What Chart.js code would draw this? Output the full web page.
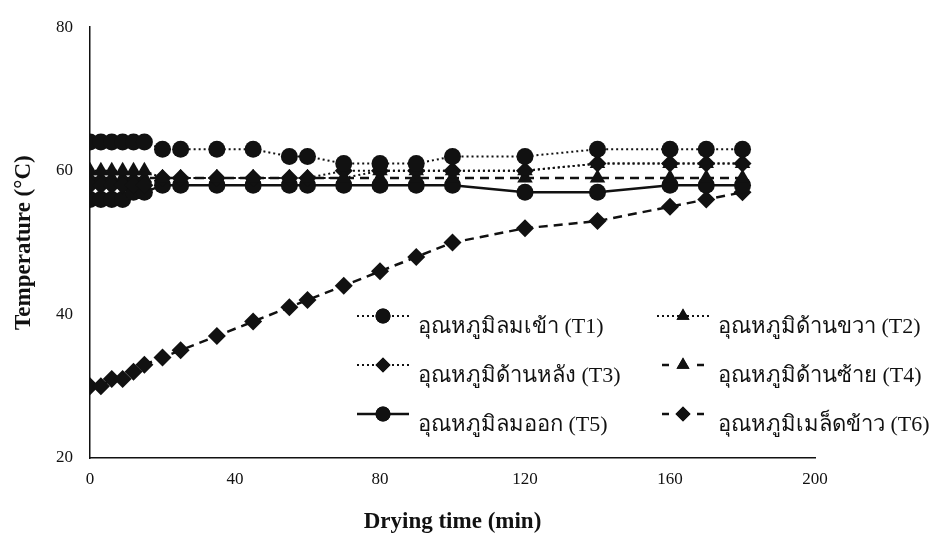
<!DOCTYPE html>
<html>
<head>
<meta charset="utf-8">
<script src="https://cdn.jsdelivr.net/npm/chart.js@4"></script>
<style>
  html, body { margin: 0; padding: 0; background: #fff; }
  #wrap { width: 930px; height: 537px; position: relative; }
</style>
</head>
<body>
<div id="wrap"><canvas id="chart"></canvas></div>
<script>
// drying time (min)
const times = [0, 3, 6, 9, 12, 15, 20, 25, 35, 45, 55, 60, 70, 80, 90, 100, 120, 140, 160, 170, 180];
// temperatures (C) at each measuring point
const t1 = [64, 64, 64, 64, 64, 64, 63, 63, 63, 63, 62, 62, 61, 61, 61, 62, 62, 63, 63, 63, 63];
const t2 = [60, 60, 60, 60, 60, 60, 59, 59, 59, 59, 59, 59, 59, 60, 60, 60, 60, 61, 61, 61, 61];
const t3 = [58, 58, 58, 58, 58, 58, 59, 59, 59, 59, 59, 59, 60, 60, 60, 60, 60, 61, 61, 61, 61];
const t4 = [59, 59, 59, 59, 59, 59, 59, 59, 59, 59, 59, 59, 59, 59, 59, 59, 59, 59, 59, 59, 59];
const t5 = [56, 56, 56, 56, 57, 57, 58, 58, 58, 58, 58, 58, 58, 58, 58, 58, 57, 57, 58, 58, 58];
const t6 = [30, 30, 31, 31, 32, 33, 34, 35, 37, 39, 41, 42, 44, 46, 48, 50, 52, 53, 55, 56, 57];

const seriesNames = [
  'อุณหภูมิลมเข้า (T1)',
  'อุณหภูมิด้านขวา (T2)',
  'อุณหภูมิด้านหลัง (T3)',
  'อุณหภูมิด้านซ้าย (T4)',
  'อุณหภูมิลมออก (T5)',
  'อุณหภูมิเมล็ดข้าว (T6)'
];
const yTicks = [20, 40, 60, 80];
const xTicks = [0, 40, 80, 120, 160, 200];

const serif = "'Liberation Serif', 'Times New Roman', serif";
const ink = '#111';

function pts(vals) {
  return vals.map((v, i) => ({ x: times[i], y: v }));
}

function series(label, vals, shape, dash, width) {
  return {
    label: label,
    data: pts(vals),
    borderColor: ink,
    backgroundColor: ink,
    borderWidth: width,
    borderDash: dash,
    pointStyle: shape,
    pointRadius: shape === 'circle' ? 8.5 : 9,
    pointBorderWidth: 0,
    pointBackgroundColor: ink,
    tension: 0
  };
}

const datasets = [
  series(seriesNames[0], t1, 'circle', [2, 3], 2),
  series(seriesNames[1], t2, 'triangle', [2, 3], 2),
  series(seriesNames[2], t3, 'rectRot', [2, 3], 2),
  series(seriesNames[3], t4, 'triangle', [9, 6], 2.5),
  series(seriesNames[4], t5, 'circle', [], 2.5),
  series(seriesNames[5], t6, 'rectRot', [9, 6], 2.5)
];

// two-column legend drawn inside the plot area
const legendInside = {
  id: 'legendInside',
  afterDraw(chart) {
    const ctx = chart.ctx;
    const cols = [357, 657];
    const rows = [316, 365, 414];
    ctx.save();
    chart.data.datasets.forEach((ds, i) => {
      const x0 = cols[i % 2];
      const y = rows[Math.floor(i / 2)];
      ctx.strokeStyle = ink;
      ctx.lineWidth = ds.borderWidth;
      ctx.setLineDash(ds.borderDash);
      ctx.beginPath();
      if (ds.borderDash.length && ds.borderDash[0] > 5) {
        ctx.setLineDash([]);
        ctx.moveTo(x0 + 5, y); ctx.lineTo(x0 + 12, y);
        ctx.moveTo(x0 + 40, y); ctx.lineTo(x0 + 47, y);
      } else {
        ctx.moveTo(x0, y); ctx.lineTo(x0 + 52, y);
      }
      ctx.stroke();
      ctx.setLineDash([]);
      Chart.helpers.drawPoint(ctx, {
        pointStyle: ds.pointStyle, radius: 7.5, borderWidth: 0
      }, x0 + 26, y);
      ctx.fillStyle = ink;
      ctx.fill();
      ctx.font = '22px ' + serif;
      ctx.textBaseline = 'middle';
      ctx.textAlign = 'left';
      ctx.fillText(ds.label, x0 + 61, y + 11);
    });
    ctx.restore();
  }
};

new Chart(document.getElementById('chart'), {
  type: 'line',
  data: { datasets: datasets },
  plugins: [legendInside],
  options: {
    responsive: true,
    maintainAspectRatio: false,
    animation: false,
    layout: { padding: { top: 22, right: 115, left: 0, bottom: 0 } },
    plugins: {
      legend: { display: false },
      tooltip: { enabled: false }
    },
    scales: {
      x: {
        type: 'linear',
        min: 0,
        max: 200,
        afterBuildTicks: (scale) => { scale.ticks = xTicks.map(v => ({ value: v })); },
        afterFit: (scale) => { scale.height = 79; },
        grid: { display: false, drawTicks: false },
        border: { display: true, color: ink, width: 1.5 },
        ticks: { color: ink, font: { family: serif, size: 17 }, padding: 11 },
        title: {
          display: true,
          text: 'Drying time (min)',
          color: ink,
          font: { family: serif, size: 23, weight: 'bold' },
          padding: { top: 0, bottom: 1 }
        }
      },
      y: {
        min: 20,
        max: 80,
        afterBuildTicks: (scale) => { scale.ticks = yTicks.map(v => ({ value: v })); },
        afterFit: (scale) => { scale.width = 90; },
        grid: { display: false, drawTicks: false },
        border: { display: true, color: ink, width: 1.5 },
        ticks: { color: ink, font: { family: serif, size: 17 }, padding: 17 },
        title: {
          display: true,
          text: 'Temperature (°C)',
          color: ink,
          font: { family: serif, size: 23, weight: 'bold' },
          padding: { top: 10, bottom: 0 }
        }
      }
    }
  }
});
</script>
</body>
</html>
